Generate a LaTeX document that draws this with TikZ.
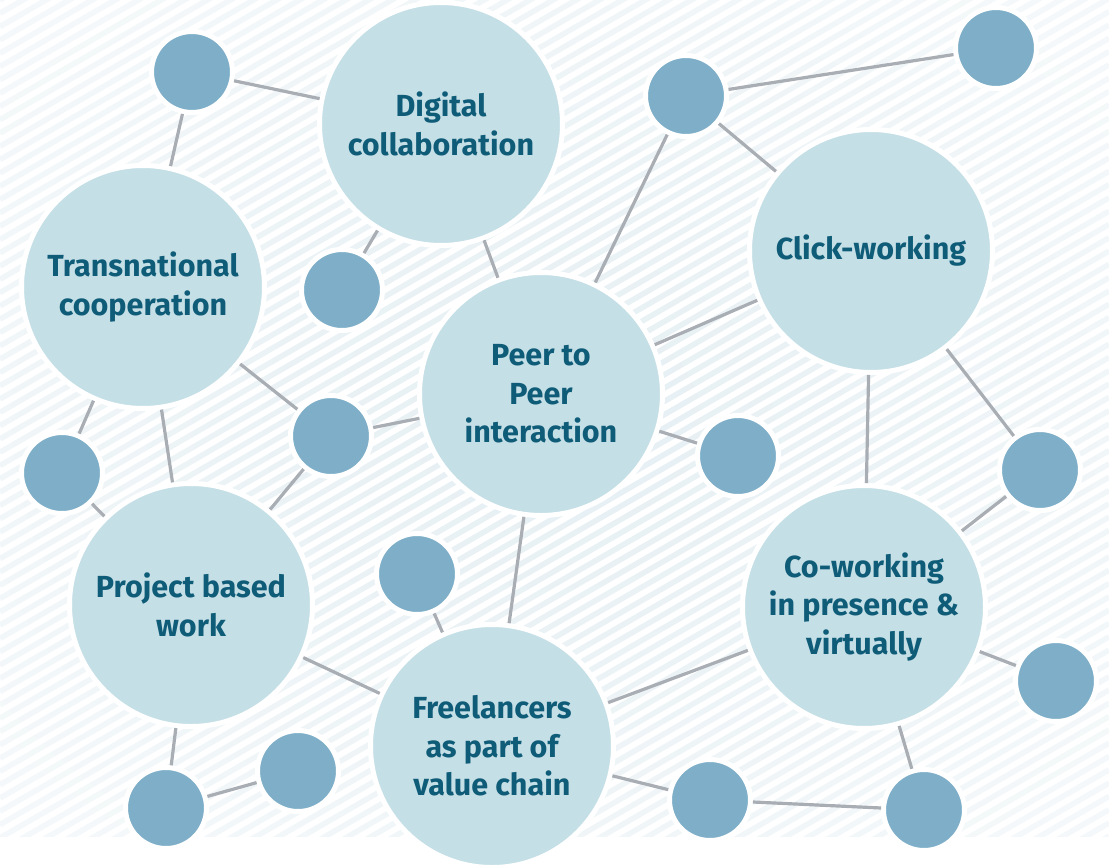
\documentclass[tikz,border=0pt]{standalone}
\usepackage{fontspec}
\setmainfont{Fira Sans}
\usetikzlibrary{fadings}

\definecolor{bigfill}{HTML}{C5DFE6}
\definecolor{smallfill}{HTML}{7FAFC8}
\definecolor{linkgray}{HTML}{A9ADB4}
\definecolor{labelteal}{HTML}{0F5C78}
\definecolor{stripeblue}{HTML}{E5EFF3}

\tikzfading[name=edgefade, inner color=transparent!100, outer color=transparent!40]

\begin{document}
\begin{tikzpicture}[x=1pt,y=-1pt]
		\tikzset{bigcircle/.style = {shape=circle, fill=bigfill, draw=white, line width=5pt, minimum size=243pt, inner sep=0pt, align=center, text=labelteal, font=\fontsize{30.5}{38.5}\selectfont\bfseries}}
		\tikzset{smallcircle/.style = {shape=circle, fill=smallfill, draw=white, line width=5pt, minimum size=81pt, inner sep=0pt}}
		\tikzset{link/.style = {draw=linkgray, line width=3.2pt}}

		\useasboundingbox (0,0) rectangle (1109,865);

		% striped background
		\begin{scope}
			\clip (0,0) rectangle (1109,836);
			\foreach \k in {0,...,116}
				\draw[stripeblue, line width=5.5pt] (0,\k*13.3) -- (1109,\k*13.3-640);
			\fill[white, path fading=edgefade] (-150,-120) rectangle (1260,960);
		\end{scope}

		% big circles
		\node[bigcircle] (D) at (441,124) {Digital\\collaboration};
		\node[bigcircle] (T) at (143,287) {Transnational\\cooperation};
		\node[bigcircle] (P) at (541,394) {Peer to\\Peer\\interaction};
		\node[bigcircle] (C) at (871,251) {Click-working};
		\node[bigcircle] (W) at (191,605) {Project based\\work};
		\node[bigcircle] (R) at (864,607) {Co-working\\in presence \&\\virtually};
		\node[bigcircle] (F) at (492,746) {Freelancers\\as part of\\value chain};

		% small circles
		\node[smallcircle] (S_1) at (192,72) {};
		\node[smallcircle] (S_2) at (686,96) {};
		\node[smallcircle] (S_3) at (996,48) {};
		\node[smallcircle] (S_4) at (342,290) {};
		\node[smallcircle] (S_5) at (331,436) {};
		\node[smallcircle] (S_6) at (62,473) {};
		\node[smallcircle] (S_7) at (738,456) {};
		\node[smallcircle] (S_8) at (1040,470) {};
		\node[smallcircle] (S_9) at (417,574) {};
		\node[smallcircle] (S_10) at (1056,681) {};
		\node[smallcircle] (S_11) at (298,771) {};
		\node[smallcircle] (S_12) at (166,808) {};
		\node[smallcircle] (S_13) at (710,800) {};
		\node[smallcircle] (S_14) at (924,810) {};

		\draw[link] (S_1)--(D);
		\draw[link] (S_1)--(T);
		\draw[link] (S_4)--(D);
		\draw[link] (D)--(P);
		\draw[link] (S_2)--(P);
		\draw[link] (S_2)--(S_3);
		\draw[link] (S_2)--(C);
		\draw[link] (C)--(P);
		\draw[link] (C)--(S_8);
		\draw[link] (C)--(R);
		\draw[link] (S_8)--(R);
		\draw[link] (R)--(S_10);
		\draw[link] (R)--(S_14);
		\draw[link] (R)--(F);
		\draw[link] (S_14)--(S_13);
		\draw[link] (S_13)--(F);
		\draw[link] (P)--(F);
		\draw[link] (P)--(S_7);
		\draw[link] (P)--(S_5);
		\draw[link] (T)--(S_5);
		\draw[link] (S_5)--(W);
		\draw[link] (T)--(S_6);
		\draw[link] (T)--(W);
		\draw[link] (S_6)--(W);
		\draw[link] (S_9)--(F);
		\draw[link] (W)--(F);
		\draw[link] (W)--(S_12);
		\draw[link] (S_12)--(S_11);

	\end{tikzpicture}
\end{document}
